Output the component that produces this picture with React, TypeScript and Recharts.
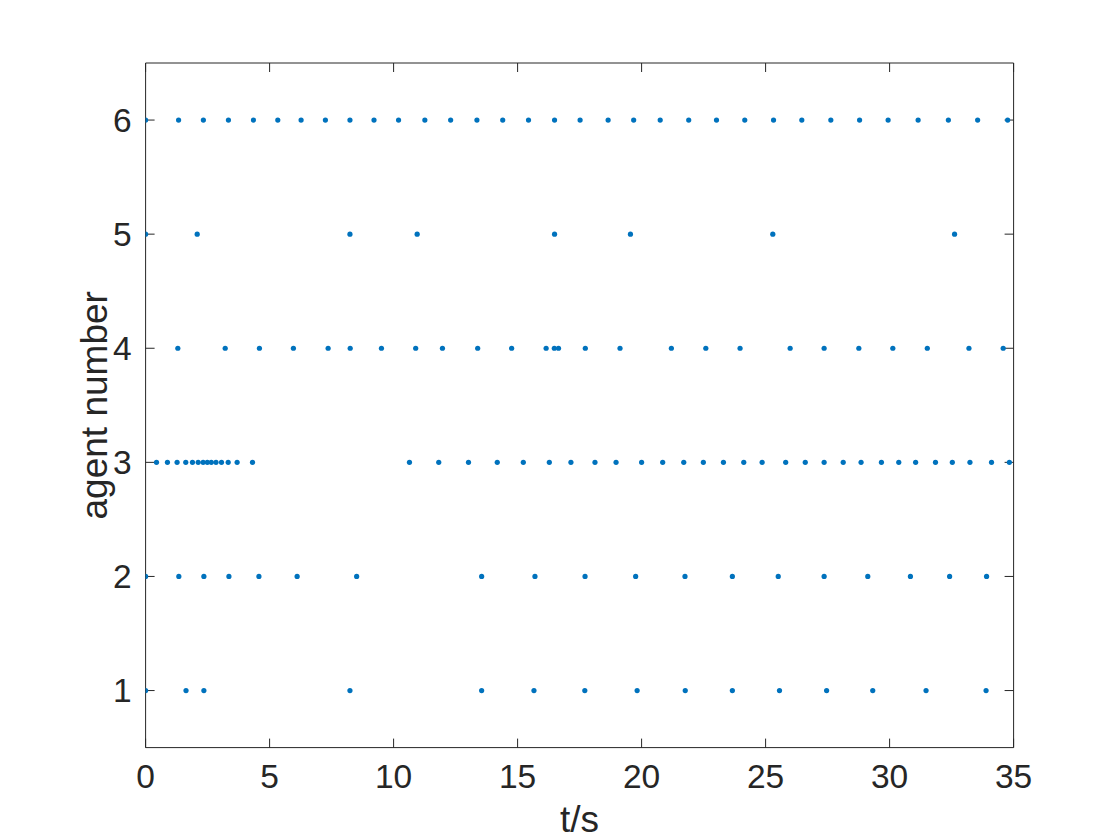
import React from "react";
import { Scatter, ScatterChart, XAxis, YAxis } from "recharts";

// event times (s) per agent
const agent1Times = [0, 1.63, 2.35, 8.24, 13.55, 15.66, 17.71, 19.82, 21.76, 23.66, 25.56, 27.46, 29.32, 31.47, 33.89];
const agent2Times = [0, 1.34, 2.35, 3.36, 4.57, 6.11, 8.51, 13.55, 15.7, 17.72, 19.76, 21.75, 23.66, 25.51, 27.36, 29.12, 30.84, 32.42, 33.91];
const agent3Times = [
  0.44, 0.88, 1.27, 1.62, 1.89, 2.12, 2.32, 2.49, 2.65, 2.84, 3.06, 3.33, 3.69, 4.31, 10.64, 11.82, 13.02, 14.18,
  15.23, 16.28, 17.15, 18.12, 18.97, 20.0, 20.85, 21.7, 22.49, 23.3, 24.12, 24.86, 25.81, 26.6, 27.36, 28.13, 28.85,
  29.67, 30.37, 31.05, 31.85, 32.53, 33.24, 34.11, 34.83,
];
const agent4Times = [
  1.3, 3.21, 4.59, 5.96, 7.36, 8.25, 9.51, 10.89, 11.97, 13.39, 14.76, 16.15, 16.48, 16.65, 17.73, 19.13, 21.2, 22.59,
  23.97, 25.99, 27.36, 28.76, 30.13, 31.52, 33.2, 34.58,
];
const agent5Times = [0, 2.08, 8.24, 10.95, 16.49, 19.55, 25.29, 32.62];
const agent6Times = [
  0, 1.33, 2.33, 3.34, 4.35, 5.33, 6.27, 7.25, 8.24, 9.21, 10.2, 11.26, 12.3, 13.36, 14.4, 15.44, 16.49, 17.52, 18.65,
  19.68, 20.75, 21.9, 23.02, 24.16, 25.32, 26.46, 27.63, 28.79, 29.94, 31.15, 32.37, 33.55, 34.76,
];

const AGENTS = [agent1Times, agent2Times, agent3Times, agent4Times, agent5Times, agent6Times];
const X_TICKS = [0, 5, 10, 15, 20, 25, 30, 35];
const Y_TICKS = [1, 2, 3, 4, 5, 6];

const INK = "#262626";
const BLUE = "#0072BD";
const FONT = "'Liberation Sans', Arial, Helvetica, sans-serif";

const points = AGENTS.flatMap((times, i) => times.map((t) => ({ t, agent: i + 1 })));

const Dot = (props: any) => <circle cx={props.cx} cy={props.cy} r={2.6} fill={BLUE} />;
const NoDot = () => <g />;
const NoLabel = () => <g />;

const XLabel = (props: any) => {
  const vb = props.viewBox;
  return (
    <text x={vb.x + vb.width / 2} y={vb.y + 84} textAnchor="middle" fontSize={37} fill={INK} fontFamily={FONT}>
      t/s
    </text>
  );
};

const YLabel = (props: any) => {
  const vb = props.viewBox;
  const x = vb.x + 21;
  const y = vb.y + vb.height / 2;
  return (
    <text x={x} y={y} transform={`rotate(-90 ${x} ${y})`} textAnchor="middle" fontSize={37} fill={INK} fontFamily={FONT}>
      agent number
    </text>
  );
};

export default function App() {
  return (
    <div style={{ position: "absolute", left: 0, top: 0, width: 1120, height: 840, background: "#fff" }}>
      <ScatterChart width={1120} height={840} margin={{ top: 63, right: 106.4, bottom: 32.4, left: 85.6 }}>
        <XAxis
          xAxisId="b"
          type="number"
          dataKey="t"
          domain={[0, 35]}
          ticks={X_TICKS}
          allowDataOverflow
          height={60}
          tickLine={false}
          tickMargin={11}
          axisLine={{ stroke: INK, strokeWidth: 1 }}
          tick={{ fontSize: 33.5, fill: INK, fontFamily: FONT }}
          label={<XLabel />}
        />
        <XAxis xAxisId="bin" type="number" dataKey="t" domain={[0, 35]} ticks={X_TICKS} allowDataOverflow orientation="bottom" mirror tick={<NoLabel />} tickSize={9} axisLine={false} tickLine={{ stroke: INK }} />
        <XAxis xAxisId="top" type="number" dataKey="t" domain={[0, 35]} ticks={X_TICKS} allowDataOverflow orientation="top" mirror tick={<NoLabel />} tickSize={9} axisLine={{ stroke: INK }} tickLine={{ stroke: INK }} />
        <YAxis
          yAxisId="l"
          type="number"
          dataKey="agent"
          domain={[0.5, 6.5]}
          ticks={Y_TICKS}
          allowDataOverflow
          width={60}
          tickLine={false}
          tickMargin={8}
          axisLine={{ stroke: INK, strokeWidth: 1 }}
          tick={{ fontSize: 33.5, fill: INK, fontFamily: FONT }}
          label={<YLabel />}
        />
        <YAxis yAxisId="lin" type="number" dataKey="agent" domain={[0.5, 6.5]} ticks={Y_TICKS} allowDataOverflow orientation="left" mirror tick={<NoLabel />} tickSize={9} axisLine={false} tickLine={{ stroke: INK }} />
        <YAxis yAxisId="right" type="number" dataKey="agent" domain={[0.5, 6.5]} ticks={Y_TICKS} allowDataOverflow orientation="right" mirror tick={<NoLabel />} tickSize={9} axisLine={{ stroke: INK }} tickLine={{ stroke: INK }} />
        {/* invisible series so the tick-only frame axes get a domain */}
        <Scatter xAxisId="bin" yAxisId="lin" data={points} shape={<NoDot />} isAnimationActive={false} />
        <Scatter xAxisId="top" yAxisId="right" data={points} shape={<NoDot />} isAnimationActive={false} />
        {AGENTS.map((times, i) => (
          <Scatter
            key={i}
            xAxisId="b"
            yAxisId="l"
            data={times.map((t) => ({ t, agent: i + 1 }))}
            fill={BLUE}
            shape={<Dot />}
            isAnimationActive={false}
          />
        ))}
      </ScatterChart>
    </div>
  );
}
